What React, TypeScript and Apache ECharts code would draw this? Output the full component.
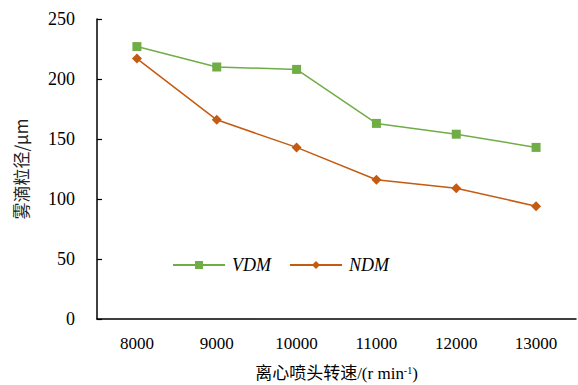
import React, { useEffect, useRef } from "react";
import * as echarts from "echarts";

const categories = ["8000", "9000", "10000", "11000", "12000", "13000"];
const vdmValues = [227, 210, 208, 163, 154, 143];
const ndmValues = [217, 166, 143, 116, 109, 94];
const yTicks = { min: 0, max: 250, interval: 50 };

export default function App() {
  const ref = useRef<HTMLDivElement>(null);
  useEffect(() => {
    if (!ref.current) return;
    const chart = echarts.init(ref.current, null, { renderer: "svg" });
    const font = "'Liberation Serif', 'Times New Roman', serif";
    chart.setOption({
      animation: false,
      textStyle: { fontFamily: font },
      grid: { left: 97, right: 2, top: 19, bottom: 66, containLabel: false, outerBoundsMode: "none" },
      legend: {
        left: 167,
        top: 251,
        itemWidth: 52,
        itemHeight: 10,
        itemGap: 18,
        textStyle: { fontFamily: font, fontSize: 18, fontStyle: "italic", color: "#000", padding: [0, 0, 0, 2] },
        data: [{ name: "VDM" }, { name: "NDM" }],
      },
      xAxis: {
        type: "category",
        data: categories,
        boundaryGap: true,
        name: "{n|离心喷头转速/(r min}{sup|-1}{n|)}",
        nameLocation: "middle",
        nameGap: 46,
        nameTextStyle: {
          fontSize: 17,
          color: "#000",
          rich: {
            n: { fontFamily: "'Liberation Serif', 'Noto Sans CJK SC', serif", fontSize: 17, color: "#000", verticalAlign: "bottom" },
            sup: { fontSize: 10, verticalAlign: "top", fontFamily: font, color: "#000" },
          },
        },
        axisLine: { lineStyle: { color: "#000", width: 1.5 } },
        axisTick: { inside: true, length: 5, lineStyle: { color: "#000", width: 1.2 } },
        axisLabel: { fontFamily: font, fontSize: 17, color: "#000", margin: 16 },
        splitLine: { show: false },
      },
      yAxis: {
        type: "value",
        min: yTicks.min,
        max: yTicks.max,
        interval: yTicks.interval,
        name: "雾滴粒径/μm",
        nameLocation: "middle",
        nameRotate: 90,
        nameGap: 68,
        nameTextStyle: { fontFamily: "'Noto Sans CJK SC', " + font, fontSize: 17, color: "#222" },
        axisLine: { show: true, lineStyle: { color: "#000", width: 1.5 } },
        axisTick: { show: true, inside: true, length: 5, lineStyle: { color: "#000", width: 1.2 } },
        axisLabel: { fontFamily: font, fontSize: 18, color: "#000", margin: 22 },
        splitLine: { show: false },
      },
      series: [
        {
          name: "VDM",
          type: "line",
          data: vdmValues,
          symbol: "rect",
          symbolSize: 9,
          lineStyle: { color: "#70AD47", width: 1.5 },
          itemStyle: { color: "#70AD47" },
        },
        {
          name: "NDM",
          type: "line",
          data: ndmValues,
          symbol: "diamond",
          symbolSize: 10,
          lineStyle: { color: "#C55A11", width: 1.5 },
          itemStyle: { color: "#C55A11" },
        },
      ],
    });
    return () => chart.dispose();
  }, []);
  return <div ref={ref} style={{ width: 578, height: 385, position: "absolute", left: 0, top: 0, background: "#fff" }} />;
}
